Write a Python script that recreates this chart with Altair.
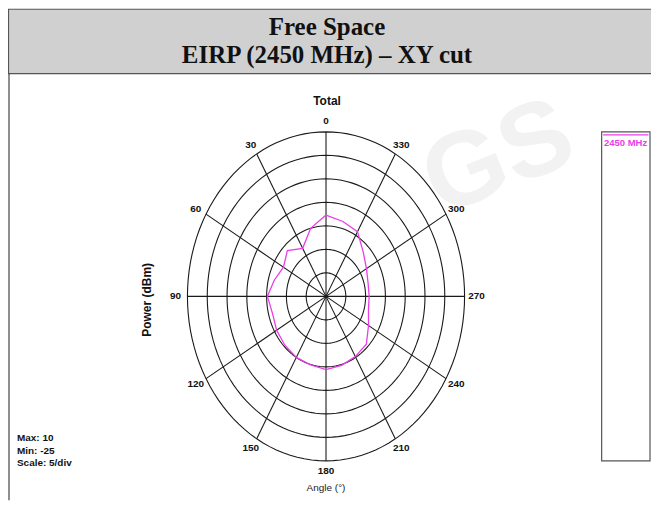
import altair as alt
import pandas as pd
import numpy as np

# ---------------- data ----------------
title_lines = ["Free Space", "EIRP (2450 MHz) – XY cut"]
plot_title = "Total"
angle_deg = [0, 15, 30, 45, 60, 75, 90, 105, 120, 135, 150, 165,
             180, 195, 210, 225, 240, 255, 270, 285, 300, 315, 330, 345]
power_dbm = [-7.7, -10.0, -13.2, -11.2, -12.6, -11.5, -10.2, -11.0, -10.6, -10.3, -10.0, -9.9,
             -9.4, -9.8, -10.2, -10.6, -12.6, -13.9, -14.1, -14.0, -13.2, -11.7, -9.1, -8.5]
ring_dbm = [-20, -15, -10, -5, 0, 5, 10]
spoke_deg = [0, 30, 60, 90, 120, 150, 180, 210, 240, 270, 300, 330]
scale_min, scale_max, scale_step = -25, 10, 5
info_lines = ["Max: 10", "Min: -25", "Scale: 5/div"]
legend_label = "2450 MHz"
y_title = "Power  (dBm)"
x_title = "Angle  (°)"

# ---------------- layout ----------------
W, H = 645, 493
CX, CY = 319, 288.5
RX, RY = 139, 165
nd = (scale_max - scale_min) / scale_step
MAG = "#ea3cea"
GRID = "#1a1a1a"
SANS = "Liberation Sans"

xs = alt.Scale(domain=[-nd, nd], range=[CX - RX, CX + RX])
ys = alt.Scale(domain=[-nd, nd], range=[CY + RY, CY - RY])

one = pd.DataFrame({"k": [0]})

# curve
curve_df = pd.DataFrame({"angle": angle_deg + [angle_deg[0]],
                         "power": power_dbm + [power_dbm[0]]})
curve_df["order"] = range(len(curve_df))
curve = alt.Chart(curve_df).transform_calculate(
    r=f"(datum.power - ({scale_min})) / {scale_step}"
).transform_calculate(
    px="-datum.r * sin(datum.angle * PI / 180)",
    py="datum.r * cos(datum.angle * PI / 180)",
).mark_line(color=MAG, strokeWidth=1.3).encode(
    x=alt.X("px:Q", scale=xs, axis=None),
    y=alt.Y("py:Q", scale=ys, axis=None),
    order="order:Q",
)

# rings
ring_rows = [{"ring": lv, "t": t} for lv in ring_dbm for t in range(0, 361, 3)]
ring_df = pd.DataFrame(ring_rows)
rings = alt.Chart(ring_df).transform_calculate(
    r=f"(datum.ring - ({scale_min})) / {scale_step}"
).transform_calculate(
    px="datum.r * sin(datum.t * PI / 180)",
    py="datum.r * cos(datum.t * PI / 180)",
).mark_line(color=GRID, strokeWidth=1.1).encode(
    x=alt.X("px:Q", scale=xs, axis=None),
    y=alt.Y("py:Q", scale=ys, axis=None),
    detail="ring:N",
    order="t:Q",
)

# spokes
spoke_df = pd.DataFrame({"angle": spoke_deg})
spokes = alt.Chart(spoke_df).transform_calculate(
    x0="0", y0="0",
    x1=f"-{nd} * sin(datum.angle * PI / 180)",
    y1=f"{nd} * cos(datum.angle * PI / 180)",
).mark_rule(color=GRID, strokeWidth=1.1).encode(
    x=alt.X("x0:Q", scale=xs, axis=None),
    y=alt.Y("y0:Q", scale=ys, axis=None),
    x2="x1:Q",
    y2="y1:Q",
)

# angle labels
labels = alt.Chart(spoke_df).transform_calculate(
    lx=f"-{nd + 0.6} * sin(datum.angle * PI / 180)",
    ly=f"{nd + 0.45} * cos(datum.angle * PI / 180)",
    txt="datum.angle + ''",
).mark_text(font=SANS, fontSize=10, fontWeight="bold", color="#111",
            align="center", baseline="middle").encode(
    x=alt.X("lx:Q", scale=xs, axis=None),
    y=alt.Y("ly:Q", scale=ys, axis=None),
    text="txt:N",
)

# decorations
def txt(s, x, y, **kw):
    return alt.Chart(one).mark_text(**kw).encode(
        x=alt.value(x), y=alt.value(y), text=alt.value(s))

watermark = txt("GS", 492, 150, font=SANS, fontSize=105, fontWeight="bold",
                color="#f2f2f2", angle=338, align="center", baseline="middle")

header = alt.Chart(one).mark_rect(fill="#d0d0d0", stroke="#555", strokeWidth=1.2).encode(
    x=alt.value(0.5), x2=alt.value(W + 10), y=alt.value(0.5), y2=alt.value(65))
left_border = alt.Chart(one).mark_rule(color="#444", strokeWidth=1.2).encode(
    x=alt.value(1), y=alt.value(65), y2=alt.value(H))

t1 = txt(title_lines[0], 320, 26, font="Liberation Serif", fontSize=25,
         fontWeight="bold", color="#111", align="center", baseline="alphabetic")
t2 = txt(title_lines[1], 320, 54, font="Liberation Serif", fontSize=25,
         fontWeight="bold", color="#111", align="center", baseline="alphabetic")
tt = txt(plot_title, 320, 93, font=SANS, fontSize=12, fontWeight="bold",
         color="#111", align="center", baseline="middle")
yt = txt(y_title, 139, 292, font=SANS, fontSize=12, fontWeight="bold",
         color="#111", align="center", baseline="middle", angle=270)
xt = txt(x_title, 319, 481, font=SANS, fontSize=10, color="#222",
         align="center", baseline="middle")
info = [txt(s, 9, 431 + 12.5 * i, font=SANS, fontSize=10, fontWeight="bold",
            color="#111", align="left", baseline="middle")
        for i, s in enumerate(info_lines)]

legend_box = alt.Chart(one).mark_rect(fill="white", stroke="#555", strokeWidth=1.2).encode(
    x=alt.value(595.5), x2=alt.value(644), y=alt.value(123.5), y2=alt.value(453.5))
legend_line = alt.Chart(one).mark_rule(color=MAG, strokeWidth=1.2).encode(
    x=alt.value(597), x2=alt.value(642.5), y=alt.value(126.5))
legend_text = txt(legend_label, 619.5, 135, font=SANS, fontSize=9.5, fontWeight="bold",
                  color=MAG, align="center", baseline="middle")

chart = alt.layer(
    watermark, header, left_border, t1, t2, tt,
    rings, spokes, curve, labels, yt, xt, *info,
    legend_box, legend_line, legend_text,
).properties(
    width=W, height=H, padding=0, autosize=alt.AutoSizeParams(type="none"),
    background="white",
).configure_view(stroke=None)

chart.save("out.html", embed_options={"renderer": "svg", "actions": False})
